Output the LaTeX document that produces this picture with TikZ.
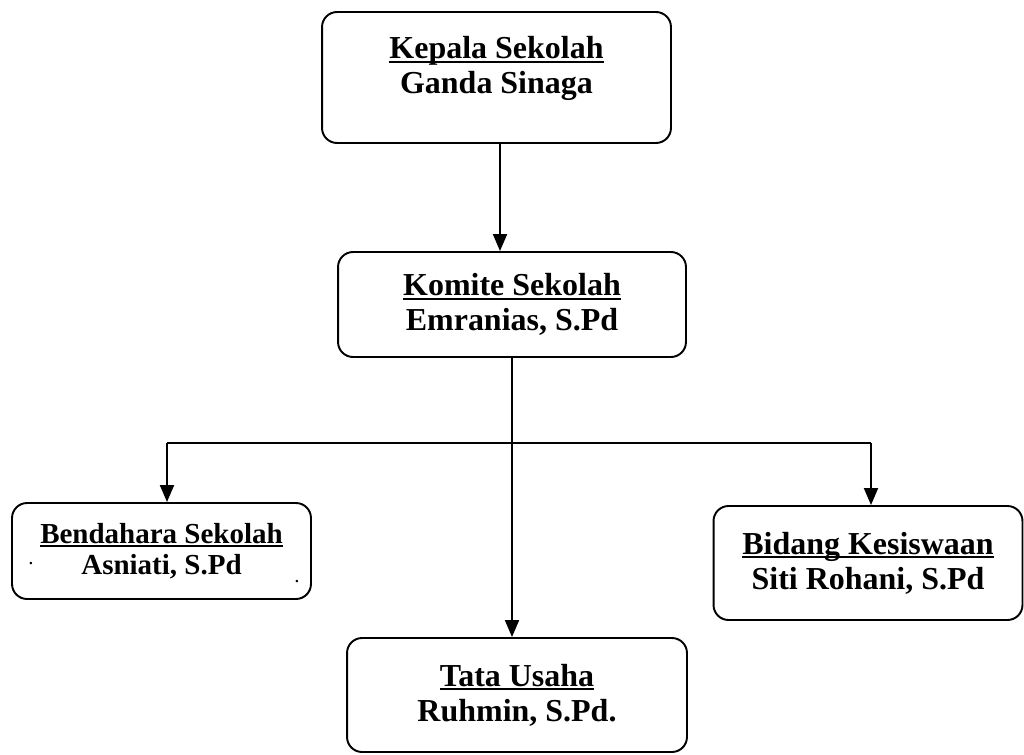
\documentclass[tikz,border=0pt]{standalone}
\usepackage{fontspec}
\setmainfont{Liberation Serif}
\usetikzlibrary{arrows.meta,positioning,calc}

% underlined heading line
\newcommand{\hdr}[1]{\setbox0\hbox{#1}\rlap{\rule[-0.13em]{\wd0}{0.06em}}\box0}

\tikzset{
  box/.style={draw, rounded corners=0.3cm, line width=1.1pt, align=center, inner sep=0pt,
    font=\bfseries\fontsize{18.2}{20}\selectfont},
  arr/.style={line width=1.1pt, -{Triangle[length=0.34cm,width=0.28cm]}},
  link/.style={line width=1.1pt}
}

\begin{document}
\begin{tikzpicture}[x=0.02cm,y=-0.02cm]
\useasboundingbox (0,0) rectangle (1024,754);

% boxes
\node[box, minimum width=6.98cm, minimum height=2.62cm, text depth=0.5cm] (kepala) at (496.5,77.5) {\hdr{Kepala Sekolah}\\Ganda Sinaga};
\node[box, minimum width=6.96cm, minimum height=2.1cm] (komite) at (512,304.5) {\hdr{Komite Sekolah}\\Emranias, S.Pd};
\node[box, minimum width=5.98cm, minimum height=1.92cm, font=\bfseries\fontsize{16.5}{17.5}\selectfont] (bendahara) at (161.5,551) {\hdr{Bendahara Sekolah}\\Asniati, S.Pd};
\node[box, minimum width=6.18cm, minimum height=2.28cm] (bidang) at (868,563) {\hdr{Bidang Kesiswaan}\\Siti Rohani, S.Pd};
\node[box, minimum width=6.8cm, minimum height=2.28cm] (tata) at (517,695) {\hdr{Tata Usaha}\\Ruhmin, S.Pd.};

\node[anchor=base, inner sep=0pt, font=\fontsize{12}{12}\selectfont] (dotl) at (31,564) {.};
\node[anchor=base, inner sep=0pt, font=\fontsize{12}{12}\selectfont] (dotr) at (297,582) {.};

% connectors
\coordinate (k1) at (500,143);
\draw[arr] (k1) -- (k1 |- komite.north);
\draw[arr] (komite.south) -- (komite.south |- tata.north);
\coordinate (bl) at (167,443);
\coordinate (br) at (871,443);
\draw[link] (bl) -- (br);
\draw[arr] (bl) -- (bl |- bendahara.north);
\draw[arr] (br) -- (br |- bidang.north);
\end{tikzpicture}
\end{document}
